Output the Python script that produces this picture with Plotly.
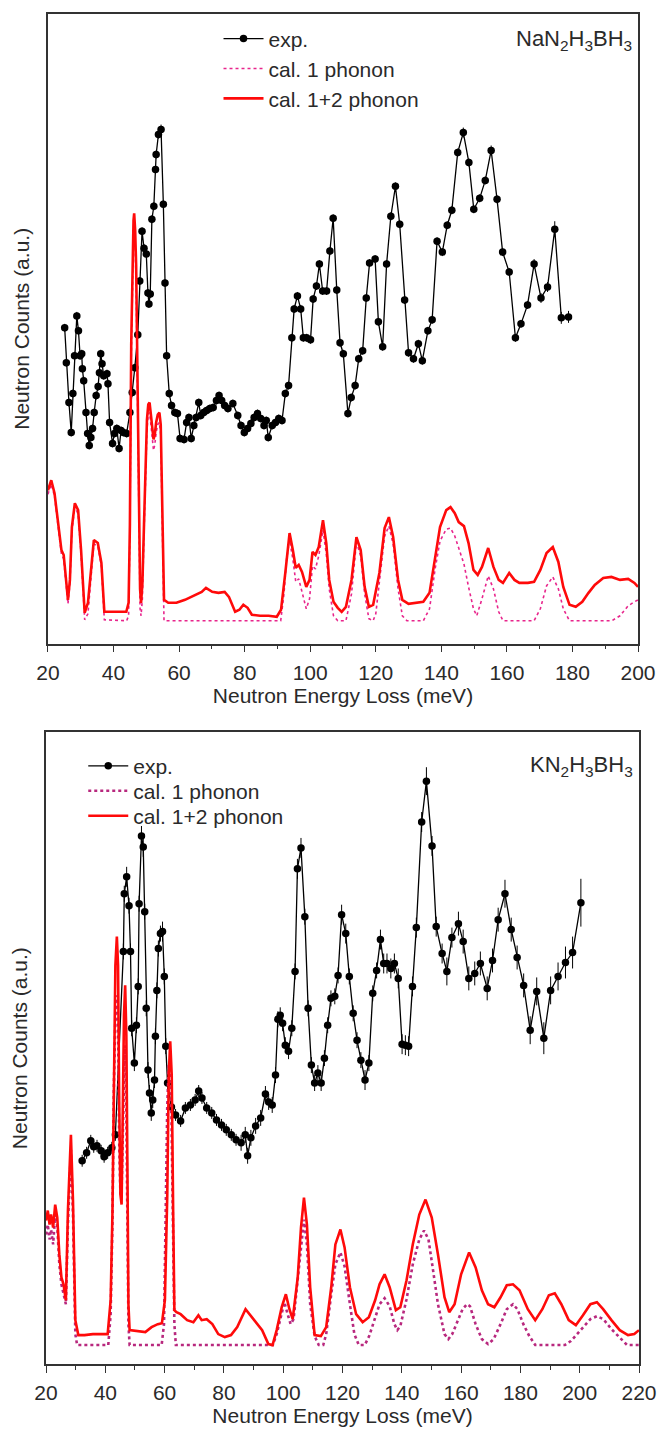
import plotly.graph_objects as go

# ---------------- data (a.u. counts vs. energy loss, meV) ----------------
# Top panel: NaN2H3BH3  -- experimental points (energy, counts, error)
top_exp = [
    (25.1, 317, 4), (25.6, 282, 4), (26.4, 242, 4), (27.1, 212, 4), (27.6, 251, 4),
    (28.1, 289, 4), (28.8, 329, 4), (29.3, 314, 4), (29.8, 289, 4), (30.3, 291, 4),
    (30.5, 276, 4), (30.9, 264, 4), (31.6, 232, 4), (32.1, 211, 4), (32.6, 199, 4),
    (33.1, 207, 4), (33.6, 216, 4), (34.1, 232, 4), (34.7, 249, 4), (35.3, 258, 4),
    (35.7, 272, 4), (36.1, 291, 4), (36.5, 281, 4), (37.0, 269, 4), (38.0, 271, 4),
    (38.3, 261, 4), (38.8, 222, 4), (39.7, 201, 4), (40.3, 211, 4), (41.0, 216, 4),
    (41.7, 196, 4), (42.3, 214, 4), (43.0, 212, 4), (44.0, 211, 4), (45.0, 232, 4),
    (45.7, 252, 4), (46.5, 277, 4), (47.4, 310, 4), (48.0, 364, 4), (48.7, 414, 4),
    (49.3, 397, 4), (50.0, 391, 4), (50.5, 352, 4), (50.8, 341, 4), (51.2, 351, 4),
    (51.7, 426, 4), (52.3, 439, 4), (52.8, 476, 4), (53.0, 491, 4), (53.7, 511, 4),
    (54.5, 516, 5), (55.2, 441, 4), (55.7, 362, 4), (56.2, 289, 4), (57.0, 251, 4),
    (57.7, 239, 4), (58.7, 232, 4), (59.5, 231, 4), (60.3, 206, 4), (61.5, 205, 4),
    (62.3, 222, 4), (63.0, 227, 4), (63.7, 206, 4), (64.5, 219, 4), (65.2, 227, 4),
    (66.0, 242, 4), (66.6, 229, 4), (67.5, 232, 4), (68.4, 234, 4), (69.4, 236, 4),
    (70.4, 237, 4), (71.4, 244, 4), (72.2, 249, 4), (73.0, 244, 4), (73.9, 239, 4),
    (74.9, 236, 4), (76.4, 241, 4), (77.9, 229, 4), (78.9, 219, 4), (79.9, 212, 4),
    (80.9, 216, 4), (81.9, 221, 4), (82.9, 227, 4), (83.9, 231, 4), (84.9, 226, 4),
    (85.9, 219, 4), (86.6, 224, 4), (87.2, 207, 4), (88.4, 219, 4), (89.4, 222, 4),
    (90.4, 226, 4), (91.4, 224, 4), (92.4, 251, 4), (93.4, 259, 4), (94.4, 307, 4),
    (95.1, 336, 4), (96.1, 349, 4), (97.1, 336, 4), (97.9, 307, 4), (98.9, 307, 4),
    (100.1, 305, 4), (100.9, 346, 4), (101.9, 359, 4), (102.8, 381, 4), (103.8, 354, 4),
    (105.0, 354, 4), (106.0, 394, 4), (107.0, 427, 4), (108.1, 355, 4), (109.1, 302, 4),
    (110.1, 291, 4), (111.5, 231, 4), (112.5, 247, 4), (113.7, 259, 4), (114.8, 286, 4),
    (116.0, 294, 4), (117.1, 347, 4), (118.1, 382, 4), (119.8, 386, 4), (120.8, 323, 4),
    (122.1, 298, 4), (123.3, 381, 4), (124.6, 429, 4), (126.0, 459, 4), (127.3, 421, 4),
    (128.8, 345, 4), (130.0, 292, 4), (131.5, 286, 4), (133.0, 301, 4), (134.2, 284, 4),
    (135.9, 314, 4), (137.2, 325, 4), (138.7, 404, 4), (140.3, 393, 4), (141.8, 420, 4),
    (143.2, 435, 4), (145.0, 493, 4), (146.7, 513, 5), (148.4, 483, 4), (149.9, 436, 4),
    (151.7, 447, 4), (153.4, 465, 4), (155.2, 495, 5), (157.0, 446, 4), (158.7, 393, 4),
    (160.7, 373, 4), (162.6, 307, 4), (164.3, 321, 4), (166.3, 340, 4), (168.3, 381, 5),
    (170.4, 347, 5), (172.4, 358, 5), (174.6, 416, 8), (176.6, 327, 6), (178.8, 328, 6),
]

# Top panel calculated spectra
top_cal1 = [
    (20.0, 150), (21.0, 160), (22.0, 148), (23.3, 114), (24.1, 90), (24.8, 85), (25.4, 60),
    (26.1, 40), (26.7, 60), (27.3, 113), (28.2, 138), (29.2, 130), (30.1, 90), (31.2, 24),
    (32.2, 30), (33.1, 70), (34.0, 100), (35.2, 98), (36.3, 78), (37.2, 24), (44.0, 23),
    (44.6, 28), (45.0, 110), (45.4, 285), (45.8, 385), (46.1, 410), (46.3, 415), (46.6, 400),
    (46.9, 360), (47.2, 280), (47.5, 180), (47.8, 80), (48.1, 35), (48.4, 28), (48.8, 45),
    (49.3, 110), (49.8, 180), (50.2, 215), (50.6, 230), (51.0, 232), (51.4, 220), (51.8, 205),
    (52.2, 194), (52.6, 200), (53.0, 212), (53.5, 220), (54.0, 222), (54.4, 210), (54.8, 130),
    (55.1, 50), (55.4, 23), (91.0, 23), (92.0, 50), (92.8, 85), (93.7, 104), (94.7, 85),
    (95.6, 62), (96.5, 65), (97.5, 52), (98.8, 35), (99.8, 45), (100.7, 78), (101.6, 75),
    (102.6, 88), (103.9, 114), (104.9, 90), (105.8, 55), (107.1, 28), (108.4, 23), (110.9, 23),
    (112.6, 50), (114.1, 102), (115.4, 88), (116.6, 50), (117.9, 25), (119.2, 23), (120.0, 30),
    (121.1, 60), (122.7, 108), (124.0, 118), (125.3, 100), (126.8, 55), (128.1, 28), (129.5, 23),
    (134.5, 23), (136.4, 35), (138.1, 75), (139.6, 103), (141.5, 115), (142.8, 116), (144.1, 108),
    (145.3, 96), (146.9, 80), (148.3, 57), (149.8, 35), (150.8, 28), (152.4, 45), (154.3, 68),
    (155.9, 55), (157.5, 32), (158.8, 23), (168.3, 23), (170.2, 35), (172.1, 58), (174.0, 67),
    (175.7, 55), (177.2, 35), (179.1, 23), (192.0, 23), (194.5, 28), (197.0, 38), (198.9, 42),
    (200.0, 44),
]
top_cal12 = [
    (20.0, 154), (21.0, 164), (22.0, 151), (23.3, 117), (24.1, 94), (24.8, 89), (25.4, 64),
    (26.1, 44), (26.7, 64), (27.3, 117), (28.2, 141), (29.2, 134), (30.1, 94), (31.2, 31),
    (32.2, 41), (33.1, 77), (34.0, 104), (35.2, 101), (36.3, 81), (37.2, 32), (38.8, 32),
    (43.9, 32), (44.6, 41), (45.0, 120), (45.4, 300), (45.8, 400), (46.1, 425), (46.3, 432),
    (46.6, 415), (46.9, 380), (47.2, 300), (47.5, 200), (47.8, 100), (48.1, 55), (48.4, 41),
    (48.8, 60), (49.3, 120), (49.8, 190), (50.2, 225), (50.6, 240), (51.0, 242), (51.4, 230),
    (51.8, 215), (52.2, 205), (52.6, 210), (53.0, 222), (53.5, 230), (54.0, 232), (54.4, 220),
    (54.8, 150), (55.1, 80), (55.4, 44), (56.7, 41), (59.2, 41), (61.8, 44), (64.3, 48),
    (66.9, 52), (68.2, 56), (70.1, 52), (72.0, 51), (73.9, 52), (75.2, 47), (77.1, 32),
    (78.4, 34), (79.6, 39), (80.9, 36), (82.2, 29), (84.7, 28), (87.3, 28), (89.8, 27),
    (91.1, 34), (92.4, 71), (93.7, 111), (94.7, 94), (95.6, 76), (96.5, 79), (97.5, 72),
    (98.8, 57), (99.8, 64), (100.7, 92), (101.6, 89), (102.6, 97), (103.9, 124), (104.9, 101),
    (105.8, 64), (107.1, 42), (108.4, 36), (109.6, 32), (110.9, 37), (112.6, 64), (114.1, 107),
    (115.4, 94), (116.6, 57), (117.9, 37), (119.2, 39), (121.1, 71), (122.7, 116), (124.0, 127),
    (125.3, 107), (126.8, 64), (128.1, 44), (130.0, 40), (131.9, 41), (134.5, 42), (136.4, 51),
    (138.1, 87), (139.6, 117), (141.5, 134), (142.8, 137), (144.1, 131), (145.3, 122),
    (146.9, 118), (148.3, 101), (149.8, 74), (151.1, 69), (152.4, 77), (154.3, 96), (155.9, 77),
    (157.5, 64), (158.8, 61), (160.7, 71), (162.3, 64), (163.8, 61), (166.4, 61), (168.3, 62),
    (170.2, 74), (172.1, 91), (174.0, 97), (175.7, 82), (177.2, 57), (179.1, 39), (181.0, 37),
    (183.0, 42), (184.9, 51), (186.8, 59), (189.4, 66), (191.9, 67), (194.5, 64), (197.0, 65),
    (198.9, 61), (200.0, 57),
]

# Bottom panel: KN2H3BH3 -- experimental points (energy, counts, error)
bot_exp = [
    (32.2, 204, 6), (33.7, 212, 6), (35.1, 224, 6), (36.1, 218, 6), (37.2, 219, 6),
    (38.6, 214, 6), (39.6, 208, 6), (40.8, 212, 6), (42.2, 217, 6), (43.4, 230, 6),
    (46.1, 414, 8), (46.4, 472, 8), (47.2, 489, 10), (48.0, 460, 8), (48.5, 414, 8),
    (48.9, 337, 8), (49.8, 302, 8), (50.5, 340, 8), (51.1, 379, 8), (51.4, 462, 8),
    (52.2, 530, 10), (52.8, 519, 10), (53.3, 454, 8), (53.8, 357, 8), (54.4, 295, 8),
    (54.9, 272, 8), (55.5, 252, 8), (56.0, 265, 8), (56.6, 285, 8), (56.9, 329, 8),
    (57.4, 375, 8), (57.9, 417, 8), (58.6, 432, 8), (59.3, 434, 10), (59.9, 389, 8),
    (60.4, 319, 8), (61.0, 282, 8), (62.3, 258, 6), (63.7, 250, 6), (65.4, 244, 6),
    (67.0, 257, 6), (68.7, 260, 6), (70.3, 265, 6), (71.5, 274, 6), (72.6, 267, 6),
    (74.2, 257, 6), (75.9, 252, 6), (77.5, 245, 6), (79.2, 240, 6), (80.8, 235, 6),
    (82.5, 230, 6), (84.1, 225, 6), (85.8, 222, 8), (87.2, 230, 8), (88.0, 209, 8),
    (89.1, 227, 8), (90.7, 239, 8), (92.4, 247, 8), (94.0, 271, 8), (95.1, 263, 8),
    (96.3, 260, 8), (97.4, 290, 8), (98.2, 346, 8), (99.0, 350, 8), (99.8, 342, 8),
    (100.7, 320, 8), (101.8, 314, 8), (102.9, 337, 8), (104.0, 394, 8), (104.8, 497, 10),
    (106.0, 518, 10), (107.3, 449, 8), (108.4, 357, 8), (109.5, 300, 8), (110.6, 282, 8),
    (111.7, 292, 8), (112.8, 282, 8), (113.9, 307, 8), (115.0, 340, 8), (116.1, 367, 8),
    (117.4, 369, 8), (118.5, 390, 8), (119.7, 451, 10), (121.1, 432, 10), (122.3, 389, 8),
    (123.6, 352, 8), (124.9, 325, 8), (126.2, 305, 8), (127.6, 285, 10), (128.9, 302, 8),
    (130.2, 372, 8), (131.5, 395, 8), (132.8, 426, 10), (133.9, 402, 10), (135.0, 402, 10),
    (136.3, 397, 10), (137.5, 402, 10), (138.8, 387, 10), (140.1, 321, 10), (141.2, 320, 10),
    (142.3, 319, 10), (143.6, 379, 10), (144.9, 438, 10), (146.7, 544, 10), (148.3, 585, 14),
    (150.2, 520, 10), (151.6, 439, 10), (153.6, 412, 10), (155.2, 394, 14), (156.9, 428, 10),
    (159.1, 442, 12), (160.7, 424, 12), (162.6, 387, 12), (164.6, 392, 12), (166.5, 402, 12),
    (168.8, 377, 12), (170.6, 405, 12), (172.5, 446, 12), (174.8, 472, 14), (176.9, 436, 12),
    (178.9, 408, 12), (181.1, 380, 12), (183.3, 335, 14), (185.5, 374, 14), (187.9, 327, 16),
    (190.2, 375, 14), (192.7, 389, 14), (195.2, 403, 16), (197.6, 413, 16), (200.4, 463, 24),
]

# Bottom panel calculated spectra
bot_cal1 = [
    (20.0, 130), (20.6, 140), (21.2, 125), (21.7, 135), (22.4, 120), (23.1, 150), (23.8, 138),
    (24.5, 100), (25.2, 80), (25.9, 72), (26.7, 60), (27.4, 140), (28.4, 215), (29.1, 150),
    (29.9, 30), (30.5, 19), (41.0, 19), (41.8, 50), (42.4, 140), (42.9, 280), (43.4, 350),
    (43.8, 370), (44.3, 340), (44.7, 220), (45.1, 170), (45.5, 175), (45.9, 230), (46.3, 300),
    (46.6, 320), (47.0, 280), (47.4, 150), (47.8, 40), (48.2, 19), (59.0, 19), (59.8, 40),
    (60.4, 150), (60.9, 260), (61.4, 300), (61.9, 290), (62.3, 250), (62.8, 120), (63.3, 40),
    (63.8, 19), (96.5, 19), (97.8, 30), (99.0, 45), (100.4, 62), (101.5, 50), (102.5, 40),
    (103.5, 45), (104.9, 85), (106.0, 120), (107.0, 145), (108.0, 120), (109.1, 60), (110.6, 28),
    (112.0, 19), (113.5, 19), (114.5, 30), (116.2, 70), (117.6, 100), (119.3, 112), (120.7, 98),
    (122.5, 60), (124.0, 30), (125.5, 19), (127.5, 19), (129.0, 28), (131.0, 45), (132.5, 60),
    (134.2, 66), (135.9, 58), (137.5, 40), (138.5, 34), (139.5, 38), (141.6, 65), (143.7, 100),
    (145.9, 125), (147.5, 134), (149.0, 125), (150.5, 95), (152.2, 60), (154.4, 30), (155.7, 25),
    (157.0, 30), (159.0, 45), (160.5, 55), (162.0, 60), (163.0, 58), (164.9, 40), (167.0, 25),
    (169.1, 20), (171.0, 25), (173.3, 40), (175.4, 55), (177.5, 60), (179.0, 55), (181.0, 40),
    (183.0, 28), (185.0, 19), (195.0, 19), (197.0, 23), (199.0, 30), (201.5, 38), (203.6, 45),
    (205.8, 48), (208.0, 45), (210.7, 35), (213.5, 26), (216.0, 19), (220.0, 19),
]
bot_cal12 = [
    (20.0, 144), (20.6, 154), (21.2, 140), (21.7, 150), (22.4, 137), (23.1, 160), (23.8, 147),
    (24.5, 110), (25.2, 87), (25.9, 80), (26.7, 64), (27.4, 154), (28.4, 230), (29.1, 164),
    (29.9, 44), (30.9, 29), (33.0, 29), (35.8, 30), (40.8, 30), (41.8, 64), (42.4, 150),
    (42.9, 300), (43.4, 400), (43.9, 429), (44.3, 400), (44.7, 260), (45.1, 170), (45.5, 160),
    (45.9, 250), (46.3, 350), (46.7, 380), (47.1, 330), (47.5, 180), (47.8, 60), (48.2, 34),
    (51.3, 33), (53.5, 32), (55.6, 37), (57.7, 40), (59.1, 41), (60.1, 64), (60.9, 170),
    (61.4, 290), (61.9, 324), (62.4, 290), (62.9, 150), (63.3, 54), (64.0, 52), (65.4, 50),
    (67.6, 44), (69.7, 42), (71.4, 49), (72.5, 44), (74.2, 45), (76.1, 40), (78.1, 30),
    (80.3, 27), (82.4, 29), (84.5, 37), (87.3, 55), (89.4, 47), (91.5, 39), (92.9, 34),
    (95.0, 20), (96.4, 19), (97.8, 34), (99.5, 57), (100.9, 70), (102.1, 55), (103.2, 45),
    (104.9, 87), (106.0, 137), (107.0, 167), (108.0, 140), (109.1, 77), (110.6, 29), (112.7, 28),
    (114.5, 37), (116.2, 77), (117.6, 120), (119.3, 135), (120.7, 117), (122.5, 77), (124.6, 50),
    (126.8, 42), (128.9, 47), (131.0, 64), (132.5, 80), (134.2, 90), (135.9, 77), (138.0, 54),
    (139.5, 57), (141.6, 84), (143.7, 120), (145.9, 150), (148.0, 165), (150.1, 147), (152.2, 110),
    (154.4, 67), (156.0, 52), (157.8, 60), (160.0, 90), (162.7, 112), (164.9, 97), (167.0, 74),
    (169.1, 60), (171.2, 57), (173.3, 67), (175.4, 79), (177.5, 80), (179.7, 74), (182.5, 55),
    (185.0, 44), (187.4, 55), (189.6, 69), (191.6, 71), (193.8, 60), (196.3, 44), (198.7, 39),
    (201.1, 49), (203.6, 60), (205.8, 62), (207.9, 55), (210.7, 44), (213.5, 34), (216.3, 29),
    (218.4, 30), (220.0, 34),
]

top_xticks = [20, 40, 60, 80, 100, 120, 140, 160, 180, 200]
bot_xticks = [20, 40, 60, 80, 100, 120, 140, 160, 180, 200, 220]
labels = ["exp.", "cal. 1 phonon", "cal. 1+2 phonon"]
top_name = "NaN<sub>2</sub>H<sub>3</sub>BH<sub>3</sub>"
bot_name = "KN<sub>2</sub>H<sub>3</sub>BH<sub>3</sub>"


def cols(rows):
    return [list(c) for c in zip(*rows)]


FONT = "Liberation Sans, Arial, sans-serif"
TXT = "#2a2a2a"
RED = "#ff0a0a"

fig = go.Figure()

# ---- top panel ----
e, c, er = cols(top_exp)
fig.add_trace(go.Scatter(x=e, y=c, mode="lines+markers", name=labels[0],
                         line=dict(color="black", width=1.3),
                         marker=dict(color="black", size=7.5, symbol="circle"),
                         error_y=dict(type="data", array=er, color="black", thickness=1, width=0),
                         xaxis="x", yaxis="y", legend="legend"))
e, c = cols(top_cal1)
fig.add_trace(go.Scatter(x=e, y=c, mode="lines", name=labels[1],
                         line=dict(color="#e8258c", width=1.6, dash="dot"),
                         xaxis="x", yaxis="y", legend="legend2"))
e, c = cols(top_cal12)
fig.add_trace(go.Scatter(x=e, y=c, mode="lines", name=labels[2],
                         line=dict(color=RED, width=2.6),
                         xaxis="x", yaxis="y", legend="legend3"))

# ---- bottom panel ----
e, c, er = cols(bot_exp)
fig.add_trace(go.Scatter(x=e, y=c, mode="lines+markers", name=labels[0],
                         line=dict(color="black", width=1.3),
                         marker=dict(color="black", size=7.5, symbol="circle"),
                         error_y=dict(type="data", array=er, color="black", thickness=1, width=0),
                         xaxis="x2", yaxis="y2", legend="legend4"))
e, c = cols(bot_cal1)
fig.add_trace(go.Scatter(x=e, y=c, mode="lines", name=labels[1],
                         line=dict(color="#b8287e", width=2.6, dash="dot"),
                         xaxis="x2", yaxis="y2", legend="legend5"))
e, c = cols(bot_cal12)
fig.add_trace(go.Scatter(x=e, y=c, mode="lines", name=labels[2],
                         line=dict(color=RED, width=2.6),
                         xaxis="x2", yaxis="y2", legend="legend6"))

W, H = 669, 1436
ML, MR, MT, MB = 46, 18, 12, 69
PW, PH = W - ML - MR, H - MT - MB


def px_x(x):
    return (x - ML) / PW


def px_y(y):
    return (H - MB - y) / PH


xcommon = dict(showline=True, linecolor="#333", linewidth=1.5, mirror=True,
               ticks="outside", ticklen=7, tickwidth=1.3, tickcolor="#333",
               minor=dict(ticks="outside", ticklen=4, dtick=10, tickwidth=1.2, tickcolor="#333"),
               showgrid=False, zeroline=False,
               tickfont=dict(family=FONT, size=21, color=TXT),
               title=dict(text="Neutron Energy Loss (meV)", font=dict(family=FONT, size=21, color=TXT),
                          standoff=5),
               ticklabelstandoff=2)
ycommon = dict(showline=True, linecolor="#333", linewidth=1.5, mirror=True,
               showticklabels=False, ticks="", showgrid=False, zeroline=False,
               title=dict(text="Neutron Counts (a.u.)", font=dict(family=FONT, size=21, color=TXT),
                          standoff=11))


def leg(xpx, ypx):
    return dict(x=px_x(xpx), y=px_y(ypx), xanchor="left", yanchor="middle",
                bgcolor="rgba(0,0,0,0)", font=dict(family=FONT, size=21, color=TXT),
                tracegroupgap=0, itemwidth=40)


fig.update_layout(
    width=W, height=H,
    margin=dict(l=ML, r=MR, t=MT, b=MB),
    paper_bgcolor="white", plot_bgcolor="white",
    showlegend=True,
    xaxis=dict(domain=[px_x(48), px_x(650)], range=[20, 200], tickvals=top_xticks,
               anchor="y", **xcommon),
    yaxis=dict(domain=[px_y(644), px_y(12)], range=[0, 632], anchor="x", **ycommon),
    xaxis2=dict(domain=[px_x(46), px_x(651)], range=[20, 220], tickvals=bot_xticks,
                anchor="y2", **xcommon),
    yaxis2=dict(domain=[px_y(1367), px_y(733)], range=[0, 634], anchor="x2", **ycommon),
    legend=leg(222, 37),
    legend2=leg(222, 67),
    legend3=leg(222, 97),
    legend4=leg(84, 767),
    legend5=leg(84, 792),
    legend6=leg(84, 817),
    annotations=[
        dict(text=top_name, x=px_x(646), y=px_y(38), xref="paper", yref="paper",
             xanchor="right", yanchor="middle", showarrow=False,
             font=dict(family=FONT, size=22, color=TXT)),
        dict(text=bot_name, x=px_x(647), y=px_y(767), xref="paper", yref="paper",
             xanchor="right", yanchor="middle", showarrow=False,
             font=dict(family=FONT, size=22, color=TXT)),
    ],
)

fig.write_html("out.html")
